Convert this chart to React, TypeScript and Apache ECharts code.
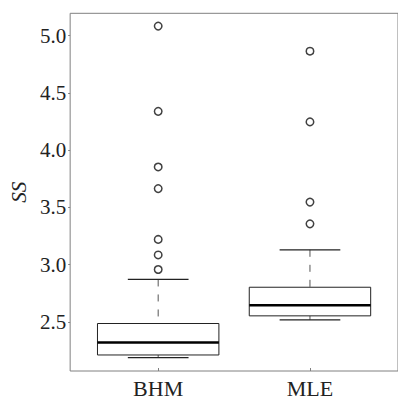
import React, { useEffect, useRef } from "react";
import * as echarts from "echarts";

const categories = ["BHM", "MLE"];
const lowerWhisker = [2.187, 2.517];
const q1 = [2.21, 2.552];
const median = [2.32, 2.644];
const q3 = [2.485, 2.802];
const upperWhisker = [2.87, 3.129];
const bhmOutliers = [5.084, 4.339, 3.853, 3.664, 3.22, 3.084, 2.957];
const mleOutliers = [4.865, 4.247, 3.546, 3.356];
const yTicks = [2.5, 3.0, 3.5, 4.0, 4.5, 5.0];

export default function App() {
  const ref = useRef<HTMLDivElement>(null);
  useEffect(() => {
    if (!ref.current) return;
    const chart = echarts.init(ref.current, undefined, { renderer: "svg" });
    const boxData = categories.map((_, i) => [i, lowerWhisker[i], q1[i], median[i], q3[i], upperWhisker[i]]);
    const outlierData: number[][] = [];
    bhmOutliers.forEach((v) => outlierData.push([0, v]));
    mleOutliers.forEach((v) => outlierData.push([1, v]));
    const font = "Liberation Serif";
    chart.setOption({
      animation: false,
      textStyle: { fontFamily: font },
      grid: {
        left: 60,
        right: -3,
        top: 13.3,
        bottom: 23.3,
        show: true,
        borderColor: "#808080",
        borderWidth: 1,
        containLabel: false,
      },
      xAxis: {
        type: "value",
        min: -0.58,
        max: 1.58,
        axisLine: { show: false, onZero: false },
        splitLine: { show: false },
        axisTick: { show: true, inside: true, length: 3, customValues: [0, 1], lineStyle: { color: "#808080" } },
        axisLabel: {
          customValues: [0, 1],
          formatter: (v: number) => categories[Math.round(v)] ?? "",
          fontFamily: font,
          fontSize: 22,
          color: "#222",
          margin: 6,
        },
      },
      yAxis: {
        type: "value",
        min: 2.07,
        max: 5.196,
        name: "SS",
        nameLocation: "middle",
        nameRotate: 90,
        nameGap: 36,
        nameTextStyle: { fontFamily: font, fontStyle: "italic", fontSize: 21, color: "#222" },
        axisLine: { show: false, onZero: false },
        splitLine: { show: false },
        axisTick: { show: true, inside: false, length: 2, customValues: yTicks, lineStyle: { color: "#808080" } },
        axisLabel: {
          customValues: yTicks,
          formatter: (v: number) => v.toFixed(1),
          fontFamily: font,
          fontSize: 21,
          color: "#222",
          margin: 4,
        },
      },
      series: [
        {
          type: "custom",
          data: boxData,
          encode: { x: 0, y: [1, 2, 3, 4, 5] },
          renderItem: (params: any, api: any) => {
            const x = api.value(0);
            const lo = api.coord([x, api.value(1)]);
            const a = api.coord([x, api.value(2)]);
            const m = api.coord([x, api.value(3)]);
            const b = api.coord([x, api.value(4)]);
            const hi = api.coord([x, api.value(5)]);
            const bw = api.size([0.8, 0])[0];
            const cw = api.size([0.4, 0])[0];
            const cx = lo[0];
            const dash = { stroke: "#555", lineWidth: 1, lineDash: [7, 8] };
            return {
              type: "group",
              children: [
                { type: "line", shape: { x1: cx, y1: hi[1], x2: cx, y2: b[1] }, style: dash },
                { type: "line", shape: { x1: cx, y1: lo[1], x2: cx, y2: a[1] }, style: dash },
                { type: "line", shape: { x1: cx - cw / 2, y1: hi[1], x2: cx + cw / 2, y2: hi[1] }, style: { stroke: "#222", lineWidth: 1.2 } },
                { type: "line", shape: { x1: cx - cw / 2, y1: lo[1], x2: cx + cw / 2, y2: lo[1] }, style: { stroke: "#222", lineWidth: 1.2 } },
                { type: "rect", shape: { x: cx - bw / 2, y: b[1], width: bw, height: a[1] - b[1] }, style: { fill: "#fff", stroke: "#222", lineWidth: 1 } },
                { type: "line", shape: { x1: cx - bw / 2, y1: m[1], x2: cx + bw / 2, y2: m[1] }, style: { stroke: "#000", lineWidth: 2.5 } },
              ],
            };
          },
        },
        {
          type: "scatter",
          data: outlierData,
          symbol: "circle",
          symbolSize: 7.5,
          itemStyle: { color: "#fff", borderColor: "#111", borderWidth: 1.5 },
        },
      ],
    });
    return () => chart.dispose();
  }, []);
  return <div ref={ref} style={{ position: "absolute", left: 0, top: 0, width: 398, height: 399 }} />;
}
